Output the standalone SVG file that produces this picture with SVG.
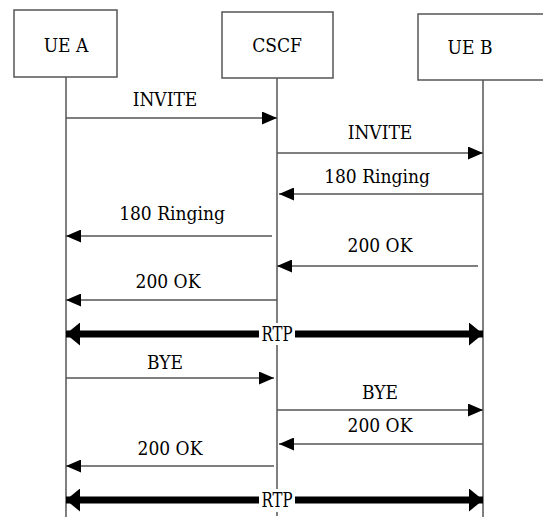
<svg xmlns="http://www.w3.org/2000/svg" width="543" height="517" viewBox="0 0 543 517">
<defs>
<marker id="ah" markerWidth="15" markerHeight="13" refX="15" refY="6.5" orient="auto" markerUnits="userSpaceOnUse">
<path d="M0,0 L15,6.5 L0,13 Z" fill="#000"/>
</marker>
<marker id="bh" markerWidth="14" markerHeight="23" refX="14" refY="11.5" orient="auto-start-reverse" markerUnits="userSpaceOnUse">
<path d="M0,0 L14,11.5 L0,23 Z" fill="#000"/>
</marker>
</defs>
<style>
.box{fill:#fff;stroke:#555;stroke-width:1.5}
.life{stroke:#555;stroke-width:1.5;fill:none}
.t{font-family:"DejaVu Serif Condensed","Liberation Serif","DejaVu Serif",serif;font-size:19px;fill:#000;text-anchor:middle}
.msg{stroke:#555;stroke-width:1.5;fill:none;marker-end:url(#ah)}
.rtp{stroke:#000;stroke-width:7;fill:none;marker-start:url(#bh);marker-end:url(#bh)}
.rl{font-family:"DejaVu Serif Condensed","Liberation Serif","DejaVu Serif",serif;font-size:20px;fill:#000;text-anchor:middle}
</style>
<rect width="543" height="517" fill="#fff"/>
<g id="lifelines">
<line class="life" x1="66" y1="77" x2="66" y2="517"/>
<line class="life" x1="277" y1="78" x2="277" y2="505"/>
<line class="life" x1="277" y1="505" x2="277" y2="517" stroke-dasharray="4,3"/>
<line class="life" x1="483" y1="80" x2="483" y2="517"/>
</g>
<g id="ueA"><rect class="box" x="14" y="10" width="103" height="67"/><text class="t" x="66" y="52">UE A</text></g>
<g id="cscf"><rect class="box" x="222" y="12" width="111" height="66"/><text class="t" x="277" y="52">CSCF</text></g>
<g id="ueB"><rect class="box" x="418" y="14" width="130" height="66"/><text class="t" x="470" y="54">UE B</text></g>
<g id="connectors">
<line class="msg" x1="66" y1="118" x2="277" y2="118"/>
<line class="msg" x1="277" y1="153" x2="483" y2="153"/>
<line class="msg" x1="483" y1="194" x2="279" y2="194"/>
<line class="msg" x1="272" y1="236" x2="66" y2="236"/>
<line class="msg" x1="478" y1="266" x2="277" y2="266"/>
<line class="msg" x1="277" y1="300" x2="66" y2="300"/>
<line class="rtp" x1="66" y1="334" x2="483" y2="334"/>
<line class="msg" x1="66" y1="378" x2="274" y2="378"/>
<line class="msg" x1="277" y1="410" x2="483" y2="410"/>
<line class="msg" x1="483" y1="444" x2="279" y2="444"/>
<line class="msg" x1="274" y1="466" x2="66" y2="466"/>
<line class="rtp" x1="66" y1="500" x2="483" y2="500"/>
</g>
<g id="labels">
<text class="t" x="165" y="106">INVITE</text>
<text class="t" x="380" y="139">INVITE</text>
<text class="t" x="377" y="183">180 Ringing</text>
<text class="t" x="172" y="220">180 Ringing</text>
<text class="t" x="380" y="252">200 OK</text>
<text class="t" x="168" y="288">200 OK</text>
<rect x="259" y="323" width="36" height="22" fill="#fff"/>
<text class="rl" x="277" y="341" textLength="31" lengthAdjust="spacingAndGlyphs">RTP</text>
<text class="t" x="165" y="369">BYE</text>
<text class="t" x="380" y="399">BYE</text>
<text class="t" x="380" y="432">200 OK</text>
<text class="t" x="170" y="455">200 OK</text>
<rect x="259" y="489" width="36" height="22" fill="#fff"/>
<text class="rl" x="277" y="507" textLength="31" lengthAdjust="spacingAndGlyphs">RTP</text>
</g>
</svg>
